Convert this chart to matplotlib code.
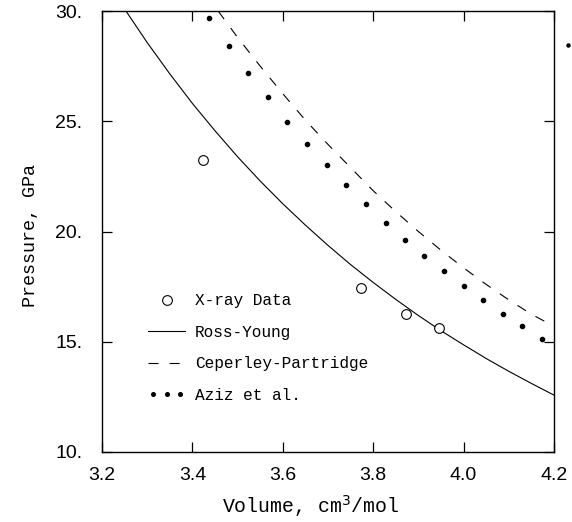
import numpy as np
import matplotlib
matplotlib.use("Agg")
import matplotlib.pyplot as plt
from matplotlib.lines import Line2D
from matplotlib.legend_handler import HandlerLine2D

# X-ray data (open circles)
xray_vol = [3.423, 3.772, 3.873, 3.946]
xray_p = [23.23, 17.43, 16.24, 15.61]

# Ross-Young curve (solid)
ry_vol = [3.253, 3.30, 3.35, 3.40, 3.45, 3.50, 3.55, 3.60, 3.65, 3.70, 3.75,
          3.80, 3.85, 3.90, 3.95, 4.00, 4.05, 4.10, 4.15, 4.20]
ry_p = [30.0, 28.57, 27.15, 25.81, 24.57, 23.39, 22.29, 21.26, 20.29, 19.37,
        18.50, 17.69, 16.92, 16.19, 15.50, 14.86, 14.24, 13.66, 13.11, 12.58]

# Ceperley-Partridge curve (dashed)
cp_vol = [3.457, 3.50, 3.55, 3.60, 3.65, 3.70, 3.75, 3.80, 3.85, 3.90, 3.95,
          4.00, 4.05, 4.10, 4.15, 4.20]
cp_p = [30.0, 28.8, 27.5, 26.25, 25.05, 23.95, 22.9, 21.85, 20.9, 20.0, 19.15,
        18.35, 17.6, 16.9, 16.25, 15.7]

# Aziz et al. (dots)
az_vol = [3.437, 3.480, 3.523, 3.568, 3.610, 3.653, 3.697, 3.740, 3.784,
          3.828, 3.870, 3.912, 3.957, 4.000, 4.044, 4.087, 4.130, 4.173]
az_p = [29.67, 28.40, 27.20, 26.09, 24.98, 23.97, 23.00, 22.11, 21.23,
        20.40, 19.61, 18.89, 18.19, 17.53, 16.88, 16.27, 15.70, 15.12]

# stray speck outside the frame in the scan
stray_vol = [4.231]
stray_p = [28.46]

xticks = [3.2, 3.4, 3.6, 3.8, 4.0, 4.2]
yticks = [10, 15, 20, 25, 30]

mono = "Liberation Mono"
sans = "Liberation Sans"

fig = plt.figure(figsize=(5.72, 5.22), dpi=100)
ax = fig.add_axes([0.1783, 0.1341, 0.7902, 0.8448])

ax.plot(ry_vol, ry_p, color="black", lw=0.8, label="Ross-Young")
ax.plot(cp_vol, cp_p, color="black", lw=0.8, dashes=(9, 10),
        label="Ceperley-Partridge")
ax.plot(az_vol, az_p, ls="none", marker="o", ms=3.0, color="black",
        label="Aziz et al.")
ax.plot(xray_vol, xray_p, ls="none", marker="o", ms=7, mfc="white",
        mec="black", mew=0.8, label="X-ray Data", zorder=3)
ax.plot(stray_vol, stray_p, ls="none", marker="o", ms=2.2, color="black",
        clip_on=False)

ax.set_xlim(3.2, 4.2)
ax.set_ylim(10, 30)
ax.set_xticks(xticks)
ax.set_xticklabels([f"{v:.1f}" for v in xticks], fontfamily=sans, fontsize=14)
ax.set_yticks(yticks)
ax.set_yticklabels([f"{v}." for v in yticks], fontfamily=sans, fontsize=14)
ax.tick_params(direction="in", length=7, width=0.9, top=True, right=True)
ax.tick_params(axis="x", pad=11)
ax.tick_params(axis="y", pad=14)
for s in ax.spines.values():
    s.set_linewidth(1.0)

ax.set_xlabel("Volume, cm$^3$/mol", fontfamily=mono, fontsize=14.3, labelpad=6,
              x=0.462)
ax.set_ylabel("Pressure, GPa", fontfamily=mono, fontsize=13.2, labelpad=12,
              y=0.49)

h = [
    Line2D([], [], ls="none", marker="o", ms=7, mfc="white", mec="black", mew=0.8),
    Line2D([], [], color="black", lw=0.8),
    Line2D([], [], color="black", lw=0.8, dashes=(9, 10)),
    Line2D([], [], ls="none", marker="o", ms=2.6, color="black"),
]
labels = ["X-ray Data", "Ross-Young", "Ceperley-Partridge", "Aziz et al."]
ax.legend(h, labels, loc="upper left", bbox_to_anchor=(0.102, 0.36),
          frameon=False, prop={"family": mono, "size": 11.6},
          handlelength=2.3, handletextpad=0.62, labelspacing=1.03,
          borderpad=0, borderaxespad=0, numpoints=1,
          handler_map={h[3]: HandlerLine2D(numpoints=3)})

fig.savefig("out.png", dpi=100)
